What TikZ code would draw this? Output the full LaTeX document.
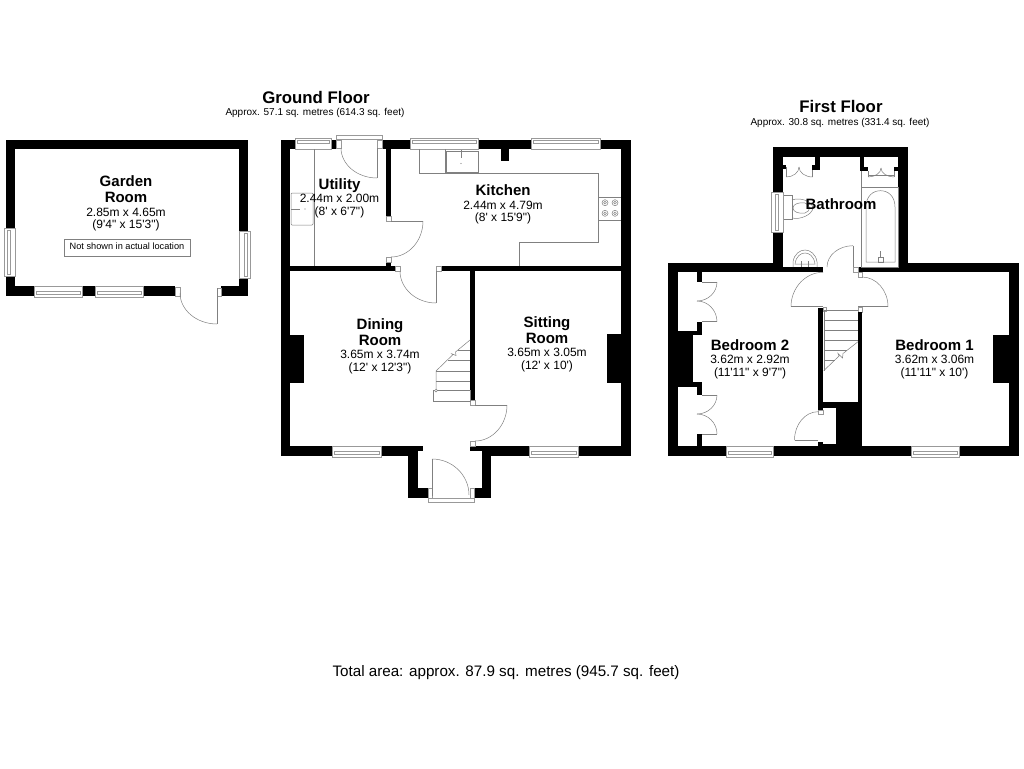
\documentclass[tikz,border=0pt]{standalone}
\usepackage{fontspec}
\setmainfont{Liberation Sans}
\usetikzlibrary{calc}
\definecolor{linegray}{gray}{0.5}
\definecolor{wingray}{gray}{0.6}
\tikzset{
  wall/.style={fill=black,draw=none},
  room/.style={fill=white,draw=none},
  thin line/.style={draw=linegray,line width=0.5pt},
  framed/.style={fill=white,draw=wingray,line width=0.55pt},
  room label/.style={align=center,inner sep=0pt,text=black,font=\fontsize{12}{12.5}\selectfont},
  big title/.style={inner sep=0pt,font=\fontsize{16.8}{18}\selectfont\bfseries},
  sub title/.style={inner sep=0pt,font=\fontsize{10}{12}\selectfont},
}
\newcommand{\ftm}{\textquotesingle}
\newcommand{\inm}{\textquotedbl}
\newcommand{\nm}[1]{{\fontsize{15}{15.5}\selectfont\bfseries #1}}
\newcommand{\nmd}[1]{\raisebox{0pt}[\height][0pt]{\nm{#1}}}
\newcommand{\blk}[4]{\fill[wall] (#1,#2) rectangle (#3,#4);}
\newcommand{\wht}[4]{\fill[room] (#1,#2) rectangle (#3,#4);}
\newcommand{\jamb}[4]{\draw[framed] (#1,#2) rectangle (#3,#4);}
% horizontal window: x1 x2 ytop ybottom inner-top inner-bottom
\newcommand{\winH}[6]{\draw[framed] (#1,#3) rectangle (#2,#4);
  \draw[framed] (#1+2,#5) rectangle (#2-2,#6);}
\newcommand{\winV}[6]{\draw[framed] (#3,#1) rectangle (#4,#2);
  \draw[framed] (#5,#1+2) rectangle (#6,#2-2);}
% quarter swing from A to B with corner C
\newcommand{\swing}[3]{\draw[thin line] (#1) .. controls ($(#1)!.55!(#3)$) and ($(#2)!.55!(#3)$) .. (#2);}
\newcommand{\seg}[4]{\draw[thin line] (#1,#2) -- (#3,#4);}
\newcommand{\lbl}[4]{\node[room label] (#1) at (#2,#3) {#4};}
\begin{document}
\begin{tikzpicture}[x=1pt,y=-1pt]
\useasboundingbox (0,0) rectangle (1024,768);
\fill[white] (0,0) rectangle (1024,768);

%% ---------- GARDEN ROOM
\blk{6}{139.5}{248}{295.7}
\wht{15}{149}{239}{286}
\wht{175}{286}{221}{296}
\jamb{175}{287}{180}{296}
\jamb{217}{288}{221}{296}
\winV{228}{276}{4.5}{15}{7}{10}
\winV{231}{278}{239}{250}{244}{247}
\winH{34}{82}{286}{297}{291}{294}
\winH{95}{143}{286}{297}{291}{294}
\seg{217}{288}{217}{324}
\swing{217,324}{180,293}{180,324}
\draw[fill=white,draw=linegray,line width=.5pt] (64,239) rectangle (190,256);
\node[inner sep=0pt,font=\fontsize{9.2}{11}\selectfont] (note) at (127,246.5) {Not shown in actual location};
\lbl{garden}{126}{203.5}{\nm{Garden}\\[3.5pt]\nm{Room}\\[1pt]2.85m x 4.65m\\(9\ftm 4\inm{} x 15\ftm 3\inm)}

%% ---------- GROUND FLOOR
\blk{281}{139.7}{631}{455.7}
\blk{408}{451}{491}{498}
\wht{290}{149.3}{386}{266}
\wht{391}{149.3}{621}{266}
\wht{290}{271}{470}{446}
\wht{475}{271}{621}{446}
% chimney breasts and piers
\blk{501}{149}{509}{161}
\blk{290}{335}{304}{383}
\blk{607}{334}{621}{383}
% openings
\wht{386}{221}{391}{257}
\wht{395}{266}{441}{271}
\wht{470}{400}{475}{446}
\wht{423}{446}{470}{451}
\wht{418}{451}{482}{488}
\wht{428}{488}{474}{498}
\wht{336}{139.7}{382}{149.3}
\jamb{386}{216}{391}{221}
\jamb{386}{257}{391}{262}
\jamb{395}{266}{400}{271}
\jamb{436}{266}{441}{271}
\jamb{470}{400}{475}{405}
\jamb{470}{441}{475}{446}
\jamb{336}{140}{341}{148.5}
\jamb{377}{140}{382}{148.5}
\jamb{428}{488}{432}{498}
\jamb{470}{488}{474}{498}
\draw[framed] (336,135.5) rectangle (382,139.7);
\draw[framed] (428,498) rectangle (474,502);
% windows
\winH{295}{331}{138.5}{149}{140.5}{143}
\winH{410}{478}{138.5}{149}{140.5}{143}
\winH{531}{600}{138.5}{149}{140.5}{143}
\winH{332}{381}{446}{457}{451}{454}
\winH{529}{578}{446}{457}{451}{454}
% doors
\seg{377}{148}{377}{178}
\swing{377,178}{341,148}{341,178}
\seg{391}{221}{423}{221}
\swing{423,221}{391,257}{423,257}
\seg{436}{271}{436}{303}
\swing{436,303}{400,271}{400,303}
\seg{475}{405}{507}{405}
\swing{507,405}{475,441}{507,441}
\seg{432}{459}{432}{496}
\swing{432,459}{469,495}{469,459}
% utility fittings
\seg{314}{149.3}{314}{266}
\draw[thin line,rounded corners=1pt] (291,193) rectangle (313,225);
\fill[linegray] (305,209) circle (.6);
\seg{291}{209}{300}{209}
% kitchen fittings
\draw[thin line] (419,149.3) -- (419,173) -- (598,173) -- (598,242) -- (519,242) -- (519,266);
\seg{445}{149.3}{445}{173}
\draw[thin line] (446,151) rectangle (478,172);
\seg{461.5}{150}{461.5}{158}
\fill[linegray] (461,163.5) circle (.6);
\seg{598}{197}{621}{197}
\seg{598}{220}{621}{220}
\foreach \cx in {605,615} \foreach \cy in {202.7,213.3} {
  \draw[thin line] (\cx,\cy) circle (3);
  \draw[thin line] (\cx,\cy) circle (1.4);
}
% stairs
\draw[thin line] (433,390.7) rectangle (470,401);
\seg{436}{381}{470}{381}
\seg{436}{371}{470}{371}
\seg{448}{360}{470}{360}
\seg{458}{350.3}{470}{350.3}
\draw[thin line] (436,390) -- (436,371) -- (453,354.5) -- (451,353.5) -- (456,355.5) -- (455.5,352) -- (470,340);
\draw[thin line,fill=white] (436,390.5) circle (1.4);
% labels
\lbl{kitchen}{503}{204.5}{\nm{Kitchen}\\[1pt]2.44m x 4.79m\\(8\ftm{} x 15\ftm 9\inm)}
\lbl{utility}{339.5}{198}{\nm{Utility}\\[1pt]2.44m x 2.00m\\(8\ftm{} x 6\ftm 7\inm)}
\lbl{dining}{380}{346}{\nmd{Dining}\\[3.5pt]\nm{Room}\\[1pt]3.65m x 3.74m\\(12\ftm{} x 12\ftm 3\inm)}
\lbl{sitting}{547}{344}{\nmd{Sitting}\\[3.5pt]\nm{Room}\\[1pt]3.65m x 3.05m\\(12\ftm{} x 10\ftm)}

%% ---------- FIRST FLOOR
\blk{668}{262.7}{1019}{455.7}
\blk{773}{146.7}{908}{272}
\wht{783}{156.7}{898}{267}
\wht{823}{267}{858}{272.3}
\wht{678}{272.3}{818}{446}
\wht{862}{272.3}{1009}{446}
\wht{818}{272.3}{862}{307.7}
\wht{823}{307.7}{858}{402}
\wht{823}{408}{836}{444}
\wht{818}{410}{823}{441.7}
% bathroom wardrobes
\blk{815}{156.7}{820}{170}
\blk{812}{165}{820}{170}
\blk{783}{165}{786}{168.5}
\blk{860}{156.7}{864}{171}
\blk{860}{167}{868}{171}
\blk{894}{167}{898}{171}
\seg{786}{167}{786}{177}
\swing{786,177}{799,167}{799,177}
\swing{799,167}{812.7,177}{799,177}
\seg{812.7}{170}{812.7}{177}
\seg{861}{171}{861}{187}
\seg{868}{171}{868}{177}
\seg{894}{171}{894}{177}
\swing{868,177}{881,168}{881,177}
\swing{881,168}{894,177}{881,177}
\seg{868}{175}{894}{175}
% bath
\draw[thin line] (861,187) rectangle (898,267);
\draw[thin line] (866,262) -- (866,207) .. controls (866,196) and (873,190.7) .. (880.5,190.7) .. controls (888,190.7) and (895,196) .. (895,207) -- (895,262) -- cycle;
\draw[thin line] (878,257) rectangle (883,262);
\seg{880.5}{251}{880.5}{257}
% toilet
\draw[thin line] (783,195) rectangle (792,219);
\draw[thin line] (792,200) .. controls (800,197) and (812,201) .. (813,208) .. controls (812,215) and (800,220) .. (792,218);
\draw[thin line] (793,208) .. controls (793,204) and (799,202) .. (805,203) .. controls (811,205) and (811,211) .. (805,213) .. controls (799,214) and (793,212) .. (793,208);
% basin
\draw[thin line] (793,267) -- (793,262) .. controls (794,254) and (800,250) .. (805,250) .. controls (810,250) and (816,254) .. (817,262) -- (817,267);
\draw[thin line] (795,264) .. controls (796,256) and (801,253) .. (805,253) .. controls (809,253) and (814,256) .. (815,264) -- cycle;
\seg{801}{261}{801}{267}
\seg{808}{261}{808}{267}
% window bathroom
\winV{192}{232}{771}{783}{775}{778}
% jambs landing
\jamb{853}{267}{858}{272}
\jamb{858}{272}{862}{277}
\jamb{858}{307.7}{862}{312}
\jamb{823}{307.7}{826}{311}
% doors
\seg{853}{267}{853}{245.7}
\swing{853,245.7}{827,267}{827,245.7}
\seg{791}{306.7}{823}{306.7}
\swing{791,306.7}{823,272.3}{791,272.3}
\seg{858}{306.7}{888}{306.7}
\swing{888,306.7}{862,277}{888,277}
% stair walls
\blk{818}{307.7}{823}{410}
\blk{858}{312}{862}{446}
\blk{823}{402}{858}{408}
\blk{836}{402}{858}{446}
\blk{818}{441.7}{823}{446}
\jamb{818}{410}{823}{414}
% stairs
\seg{825}{310}{858}{310}
\seg{825}{320}{858}{320}
\seg{825}{330}{858}{330}
\seg{825}{340.7}{858}{340.7}
\seg{825}{350.7}{847}{350.7}
\seg{825}{360.7}{835}{360.7}
\seg{824.5}{310}{824.5}{370.7}
\draw[thin line] (823.7,370.7) -- (839,356) -- (838,353.5) -- (842.5,358) -- (843,353.5) -- (858,341.7);
% closet door
\seg{794.5}{440}{818}{440}
\swing{794.5,440}{818,411.7}{794.5,411.7}
% bedroom 2 wardrobes and chimney
\blk{697}{272.3}{702}{282}
\blk{697}{321.7}{702}{335}
\blk{678}{330.7}{697}{335}
\blk{678}{335}{693}{381.7}
\blk{678}{381.7}{697}{386.7}
\blk{697}{381.7}{702}{395}
\blk{697}{434}{702}{446}
\seg{702}{282}{717}{282}
\swing{717,282}{697,301}{717,301}
\swing{697,301}{717,321.7}{717,301}
\seg{702}{321.7}{717}{321.7}
\seg{702}{395}{717}{395}
\swing{717,395}{697,414}{717,414}
\swing{697,414}{717,434}{717,414}
\seg{702}{434}{717}{434}
% bedroom 1 chimney
\blk{993}{335}{1009}{383}
% windows
\winH{726}{773}{446}{457}{451}{454}
\winH{911}{959}{446}{457}{451}{454}
% labels
\node[room label] (bathroom) at (841,204) {\nm{Bathroom}};
\lbl{bedtwo}{750}{359}{\nm{Bedroom 2}\\[1pt]3.62m x 2.92m\\(11\ftm 11\inm{} x 9\ftm 7\inm)}
\lbl{bedone}{934.5}{359}{\nm{Bedroom 1}\\[1pt]3.62m x 3.06m\\(11\ftm 11\inm{} x 10\ftm)}

%% ---------- TITLES
\node[big title] (gtitle) at (316,97) {Ground Floor};
\node[sub title] (gsub) at (315,113) {Approx. 57.1 sq. metres (614.3 sq. feet)};
\node[big title] (ftitle) at (841,106) {First Floor};
\node[sub title] (fsub) at (840,122.5) {Approx. 30.8 sq. metres (331.4 sq. feet)};
\node[inner sep=0pt,font=\fontsize{15.2}{16}\selectfont] (total) at (506,672.5) {Total area: approx. 87.9 sq. metres (945.7 sq. feet)};
\end{tikzpicture}
\end{document}
